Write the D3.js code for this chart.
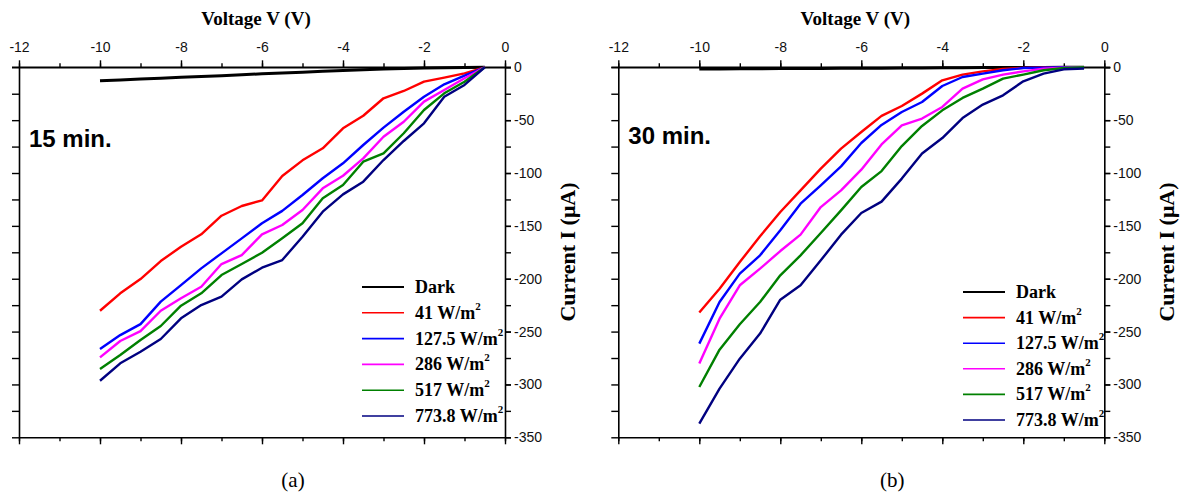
<!DOCTYPE html>
<html><head><meta charset="utf-8">
<script src="https://cdn.jsdelivr.net/npm/d3@7"></script>
<style>body{margin:0;background:#fff}</style>
</head><body><svg id="c" width="1186" height="494"></svg>
<script>
// ---------- data ----------
const voltage = [-10,-9.5,-9,-8.5,-8,-7.5,-7,-6.5,-6,-5.5,-5,-4.5,-4,-3.5,-3,-2.5,-2,-1.5,-1,-0.5];
const seriesNames = ["Dark","41 W/m","127.5 W/m","286 W/m","517 W/m","773.8 W/m"];
const seriesSup = ["","2","2","2","2","2"];
const seriesColors = ["#000000","#ff0000","#0000ff","#ff00ff","#008000","#000080"];
const xTicks = [-12,-10,-8,-6,-4,-2,0];
const xMinorTicks = [-12,-11,-10,-9,-8,-7,-6,-5,-4,-3,-2,-1,0];
const yTicks = [0,-50,-100,-150,-200,-250,-300,-350];
const yMinorTicks = [0,-25,-50,-75,-100,-125,-150,-175,-200,-225,-250,-275,-300,-325,-350];
const panelLabels = ["15 min.","30 min."];
const captions = ["(a)","(b)"];

// 15 min
const dark15 = [-12.7,-11.9,-11.1,-10.3,-9.5,-8.8,-8.0,-7.0,-6.2,-5.4,-4.6,-3.8,-3.0,-2.3,-1.6,-1.1,-0.7,-0.4,-0.2,0];
const red15 = [-230.3,-213.8,-200.3,-183.3,-169.7,-158,-140.4,-131.2,-125.9,-102.8,-88,-76.6,-57.7,-45.8,-29.3,-22.4,-13.6,-9.8,-5.7,0];
const blue15 = [-266.5,-253.3,-242.9,-221.7,-206,-190.2,-176,-161.8,-147.6,-135.8,-120.8,-105,-90.8,-73.5,-57.1,-42,-27.8,-16.1,-7.9,0];
const magenta15 = [-274.4,-258.9,-249.5,-230.3,-218.5,-207.6,-186.1,-177.6,-158,-149.2,-135,-114.5,-102.6,-86.1,-65.7,-51.5,-32.5,-21.5,-10.4,0];
const green15 = [-285.4,-272.2,-258,-244.7,-225.5,-213.8,-196.5,-186.1,-175.4,-161.8,-147.6,-123.9,-111.4,-89.3,-81.4,-62.4,-40.4,-24.6,-13.6,0];
const navy15 = [-296.5,-280,-269,-257,-237.5,-224.9,-217,-200.6,-189.6,-182.3,-160.3,-136.6,-120.2,-108.2,-87.7,-69.7,-53,-27.8,-16.7,0];

// 30 min
const dark30 = [-1.6,-1.5,-1.4,-1.3,-1.2,-1.2,-1.1,-1.0,-0.9,-0.8,-0.7,-0.6,-0.5,-0.4,-0.3,-0.2,-0.1,-0.1,0,0];
const red30 = [-232,-209.4,-184.2,-159.9,-136.9,-116.4,-95.9,-76.9,-61.2,-46,-36.6,-24.9,-12.3,-6.9,-3.8,-1.5,-0.5,-0.2,-0.1,0];
const blue30 = [-261.4,-222,-195.2,-177.9,-154.2,-129,-111.6,-93.7,-71.6,-54.5,-42.3,-32.8,-17.7,-9.2,-6,-2.8,-0.7,-0.3,0,0];
const magenta30 = [-280.3,-237.8,-206.2,-190.5,-173.8,-158.3,-132.2,-116.4,-96.8,-73,-54.9,-48.5,-37.5,-20.2,-11.4,-6.9,-3.8,-1.3,-0.3,0];
const green30 = [-302.4,-267.1,-243.1,-222,-196.8,-177.9,-156.8,-135.3,-113.2,-98.2,-74.5,-55.5,-40.7,-29,-20.2,-10.7,-6.9,-2.8,-0.6,0];
const navy30 = [-337.1,-304,-275.6,-251.9,-219.8,-206.2,-182.6,-158.3,-137.8,-127.1,-105.3,-81.6,-66.9,-48,-35.3,-26.5,-13.2,-6,-1.9,-1.2];

const panel15 = [dark15, red15, blue15, magenta15, green15, navy15];
const panel30 = [dark30, red30, blue30, magenta30, green30, navy30];

// ---------- drawing ----------
const svg = d3.select("#c");
const sans = "'Liberation Sans', Arial, sans-serif";
const serif = "'Liberation Serif', 'Times New Roman', serif";

function drawPanel(cfg) {
  const g = svg.append("g");
  const x = d3.scaleLinear().domain([-12, 0]).range([cfg.left, cfg.left + 486]);
  const y = d3.scaleLinear().domain([0, -350]).range([67.3, 437.3]);
  const X0 = x.range()[0], X1 = x.range()[1], Y0 = y.range()[0], Y1 = y.range()[1];

  function styleAxis(sel) {
    sel.select(".domain").attr("stroke", "#000").attr("stroke-width", 1.6);
    sel.selectAll(".tick line").attr("stroke", "#000").attr("stroke-width", 1.4);
  }
  // minor ticks
  g.append("g").attr("transform", `translate(0,${Y0})`)
    .call(d3.axisTop(x).tickValues(xMinorTicks).tickSize(4).tickFormat("").tickSizeOuter(0))
    .call(styleAxis).call(s => s.select(".domain").remove());
  g.append("g").attr("transform", `translate(0,${Y1})`)
    .call(d3.axisBottom(x).tickValues(xMinorTicks).tickSize(4).tickFormat("").tickSizeOuter(0))
    .call(styleAxis).call(s => s.select(".domain").remove());
  // top axis
  const top = g.append("g").attr("transform", `translate(0,${Y0})`)
    .call(d3.axisTop(x).tickValues(xTicks).tickSize(7).tickSizeOuter(0).tickPadding(8).tickFormat(d => String(d)))
    .call(styleAxis);
  top.selectAll("text").attr("font-family", sans).attr("font-size", 14).attr("fill", "#111");
  // bottom axis
  g.append("g").attr("transform", `translate(0,${Y1})`)
    .call(d3.axisBottom(x).tickValues(xTicks).tickSize(7).tickSizeOuter(0).tickFormat(""))
    .call(styleAxis);
  // left axis
  g.append("g").attr("transform", `translate(${X0},0)`)
    .call(d3.axisLeft(y).tickValues(yMinorTicks).tickSize(7).tickSizeOuter(0).tickFormat(""))
    .call(styleAxis);
  // right axis
  g.append("g").attr("transform", `translate(${X1},0)`)
    .call(d3.axisRight(y).tickValues(yMinorTicks).tickSize(6).tickSizeOuter(0).tickFormat(""))
    .call(styleAxis);
  const right = g.append("g").attr("transform", `translate(${X1},0)`)
    .call(d3.axisRight(y).tickValues(yTicks).tickSize(6).tickSizeOuter(0).tickPadding(3).tickFormat(d => d === 0 ? "0" : String(d)))
    .call(styleAxis);
  right.select(".domain").remove();
  right.selectAll("text").attr("font-family", sans).attr("font-size", 14).attr("fill", "#111");
  // extend axis line a little past corner
  g.append("line").attr("x1", X0 - 7).attr("x2", X1 + 6).attr("y1", Y0).attr("y2", Y0)
    .attr("stroke", "#000").attr("stroke-width", 1.6);

  // titles
  g.append("text").attr("x", (X0 + X1) / 2 - 6).attr("y", 25).attr("text-anchor", "middle")
    .attr("font-family", serif).attr("font-weight", "bold").attr("font-size", 19)
    .text("Voltage V (V)");
  g.append("text").attr("transform", `translate(${X1 + 65},${252}) rotate(-90)`)
    .attr("text-anchor", "middle").attr("dominant-baseline", "middle")
    .attr("font-family", serif).attr("font-weight", "bold").attr("font-size", 22)
    .text("Current I (\u03BCA)");
  g.append("text").attr("x", X0 + 10).attr("y", cfg.labelY)
    .attr("font-family", sans).attr("font-weight", "bold").attr("font-size", 24)
    .text(cfg.label);
  g.append("text").attr("x", (X0 + X1) / 2 + 31).attr("y", 487).attr("text-anchor", "middle")
    .attr("font-family", serif).attr("font-size", 21)
    .text(cfg.caption);

  // lines
  const line = d3.line().x((d, i) => x(voltage[i])).y(d => y(d));
  cfg.series.forEach((s, k) => {
    g.append("path").datum(s).attr("d", line).attr("fill", "none")
      .attr("stroke", seriesColors[k]).attr("stroke-width", k === 0 ? 3 : 2.4)
      .attr("stroke-linejoin", "round");
  });

  // legend
  seriesNames.forEach((name, k) => {
    const ly = cfg.legY + k * cfg.legStep;
    g.append("line").attr("x1", cfg.legX).attr("x2", cfg.legX + 42).attr("y1", ly).attr("y2", ly)
      .attr("stroke", seriesColors[k]).attr("stroke-width", k === 0 ? 2 : 1.6);
    const t = g.append("text").attr("x", cfg.legX + 53).attr("y", ly + 6)
      .attr("font-family", serif).attr("font-weight", "bold").attr("font-size", 18).text(name);
    if (seriesSup[k]) t.append("tspan").attr("dy", -9).attr("font-size", 11).text(seriesSup[k]);
  });
}

drawPanel({left: 19, series: panel15, label: panelLabels[0], labelY: 147, caption: captions[0],
  legX: 362, legY: 287, legStep: 25.8});
drawPanel({left: 618.3, series: panel30, label: panelLabels[1], labelY: 144, caption: captions[1],
  legX: 963, legY: 292, legStep: 25.6});
</script>
</body></html>
